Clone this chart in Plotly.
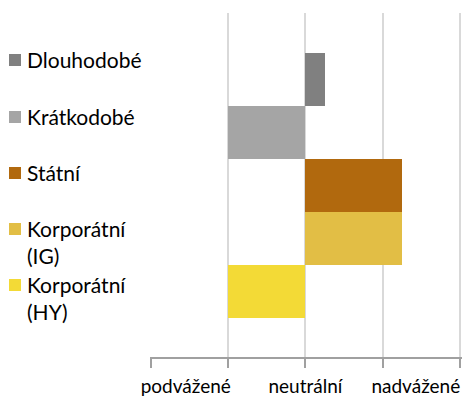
import plotly.graph_objects as go

# Asset classes, positioning score (-2 .. 2) and series colours
categories = ["Dlouhodobé", "Krátkodobé", "Státní", "Korporátní (IG)", "Korporátní (HY)"]
legend_labels = ["Dlouhodobé", "Krátkodobé", "Státní", "Korporátní<br>(IG)", "Korporátní<br>(HY)"]
scores = [0.25, -1.0, 1.25, 1.25, -1.0]
colors = ["#808080", "#a5a5a5", "#b1690e", "#e2be45", "#f3da36"]
axis_ticks = [-2, -1, 0, 1, 2]
label_positions = [-1.55, 0, 1.43]
label_texts = ["podvážené", "neutrální", "nadvážené"]

FONT = "Lato"
FS = 19
FS_KEY = 21
W, H = 463, 397
ML, MR, MT, MB = 150, 1, 13, 40
PW, PH = W - ML - MR, H - MT - MB


def px_x(p):
    return (p - ML) / PW


def px_y(p):
    return 1 - (p - MT) / PH


fig = go.Figure()
for cat, val, col in zip(categories, scores, colors):
    fig.add_trace(go.Bar(
        x=[val], y=[cat], orientation="h", width=1,
        marker=dict(color=col, line=dict(width=0)),
        name=cat, showlegend=False, hoverinfo="x+name",
    ))

# carrier trace for the labelled overlay axis
fig.add_trace(go.Scatter(x=[], y=[], xaxis="x2", showlegend=False, hoverinfo="skip"))

# left-hand key: colour square + label, one row per series
row_centres = [60, 117, 173, 229, 285]
shapes, annotations = [], []
for lab, col, yc in zip(legend_labels, colors, row_centres):
    shapes.append(dict(type="rect", xref="paper", yref="paper",
                       x0=px_x(9), x1=px_x(21), y0=px_y(yc + 6), y1=px_y(yc - 6),
                       fillcolor=col, line=dict(width=0)))
    annotations.append(dict(xref="paper", yref="paper", x=px_x(25), y=px_y(yc - 15),
                            xanchor="left", yanchor="top", align="left",
                            text=lab, showarrow=False,
                            font=dict(family=FONT, size=FS_KEY, color="#000")))

unit = PW / 4.041
xmin = -2 - 1 / unit
xr = [xmin, xmin + PW / unit]

fig.update_layout(
    width=W, height=H,
    margin=dict(l=ML, r=MR, t=MT, b=MB, pad=0, autoexpand=False),
    paper_bgcolor="white", plot_bgcolor="white",
    barmode="overlay", bargap=0,
    font=dict(family=FONT, size=FS, color="#000"),
    shapes=shapes, annotations=annotations,
    xaxis=dict(range=xr, tickvals=axis_ticks, showticklabels=False,
               showgrid=True, gridcolor="#d9d9d9", gridwidth=1.5,
               zeroline=True, zerolinecolor="#d9d9d9", zerolinewidth=1.5,
               showline=True, linecolor="#a0a0a0", linewidth=1.5,
               ticks="outside", ticklen=9, tickcolor="#a0a0a0", tickwidth=1.5,
               automargin=False, fixedrange=True),
    xaxis2=dict(range=xr, overlaying="x", side="bottom", anchor="y",
                tickvals=label_positions, ticktext=label_texts,
                ticklabeloverflow="allow", automargin=False,
                showgrid=False, zeroline=False, showline=False,
                ticks="outside", ticklen=12, tickcolor="rgba(0,0,0,0)",
                tickfont=dict(family=FONT, size=FS, color="#000"),
                fixedrange=True),
    yaxis=dict(type="category", categoryorder="array", categoryarray=categories,
               range=[5.236, -1.255], showticklabels=False, showgrid=False,
               zeroline=False, showline=False, ticks="", automargin=False,
               fixedrange=True),
)

fig.write_html("out.html")
